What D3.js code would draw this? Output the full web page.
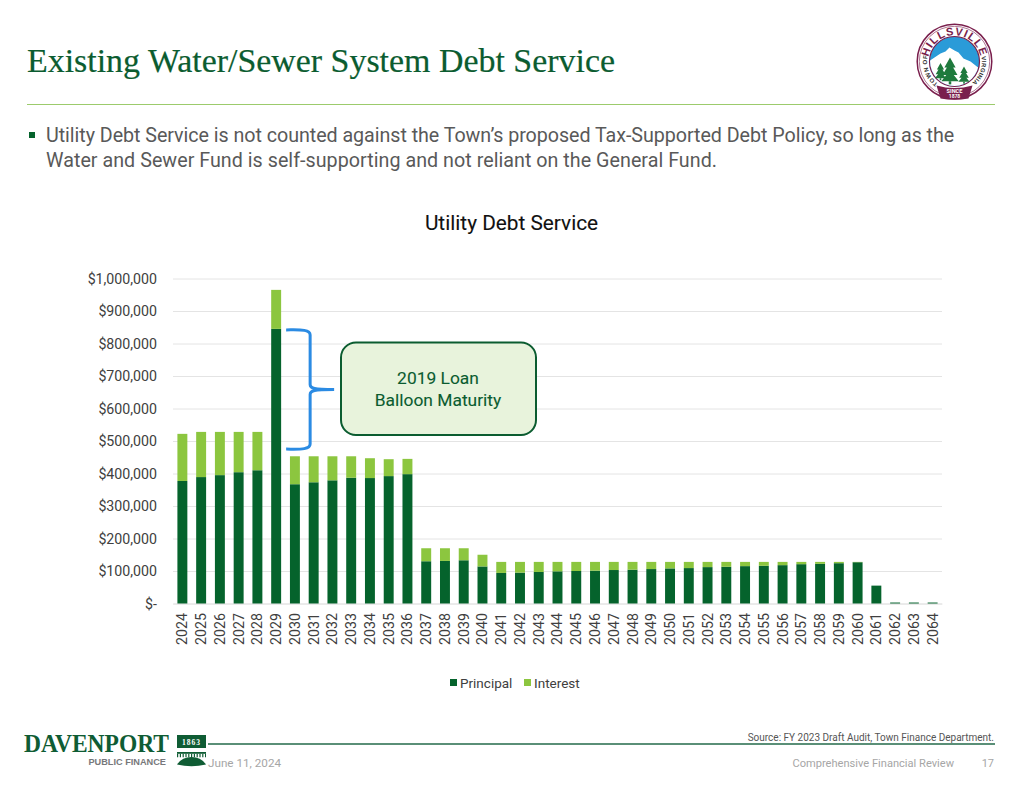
<!DOCTYPE html>
<html>
<head>
<meta charset="utf-8">
<script src="https://cdn.jsdelivr.net/npm/d3@7"></script>
<style>
  html, body { margin: 0; padding: 0; background: #fff; }
  svg { display: block; }
  text { font-family: Roboto, sans-serif; }
</style>
</head>
<body>
<div id="chart"></div>
<script>
const years = d3.range(2024, 2065).map(String)
const principal = [377000, 389000, 395000, 404000, 410000, 845000, 367000, 373000, 379000, 387000,
  386000, 392000, 398000, 130000, 131000, 133000, 114000, 94000, 95000, 97000,
  99000, 100000, 101000, 103000, 104000, 106000, 108000, 109000, 112000, 113000,
  115000, 116000, 118000, 121000, 122000, 124000, 127000, 55000, 3000, 3000, 3000]
const interest = [145000, 139000, 133000, 124000, 118000, 120000, 86000, 80000, 74000, 66000,
  61000, 52000, 47000, 40000, 39000, 37000, 36000, 34000, 33000, 31000,
  29000, 28000, 27000, 25000, 24000, 22000, 20000, 19000, 16000, 15000,
  13000, 12000, 10000, 7000, 6000, 4000, 1000, 0, 0, 0, 0]
const yTicks = d3.range(0, 1000001, 100000)
const seriesNames = ['Principal', 'Interest']
const seriesColors = ['#05632c', '#8cc63f']
const bulletLines = [
  'Utility Debt Service is not counted against the Town\u2019s proposed Tax-Supported Debt Policy, so long as the',
  'Water and Sewer Fund is self-supporting and not reliant on the General Fund.'
]
const calloutLines = ['2019 Loan', 'Balloon Maturity']
const braceRange = [845000, 472000]

const width = 1024
const height = 791
const darkGreen = '#0b5c30'

const svg = d3.select('#chart').append('svg')
  .attr('width', width)
  .attr('height', height)
  .attr('viewBox', `0 0 ${width} ${height}`)

// header
svg.append('text')
  .attr('x', 27).attr('y', 72)
  .attr('font-size', 33)
  .style('font-family', '"Liberation Serif", serif')
  .attr('fill', darkGreen)
  .attr('stroke', darkGreen)
  .attr('stroke-width', 0.2)
  .attr('textLength', 588)
  .attr('lengthAdjust', 'spacingAndGlyphs')
  .text('Existing Water/Sewer System Debt Service')

svg.append('line')
  .attr('x1', 27).attr('x2', 995)
  .attr('y1', 104.5).attr('y2', 104.5)
  .attr('stroke', '#9ccb6c').attr('stroke-width', 1.2)

svg.append('rect')
  .attr('x', 29).attr('y', 132).attr('width', 6).attr('height', 6)
  .attr('fill', seriesColors[0])

svg.selectAll('.bullet').data(bulletLines).enter()
  .append('text')
  .attr('class', 'bullet')
  .attr('x', 46)
  .attr('y', (d, i) => 142 + i * 25)
  .attr('font-size', 19.7)
  .attr('letter-spacing', (d, i) => i ? 0.03 : -0.05)
  .attr('fill', '#595959')
  .text(d => d)

svg.append('text')
  .attr('x', 511.5).attr('y', 230)
  .attr('text-anchor', 'middle')
  .attr('font-size', 20.8)
  .attr('fill', '#111')
  .attr('stroke', '#111')
  .attr('stroke-width', 0.1)
  .text('Utility Debt Service')

// chart
const x = d3.scaleBand().domain(years).range([173, 942]).paddingInner(0.47).paddingOuter(0.235)
const y = d3.scaleLinear().domain([0, 1000000]).range([603.5, 278.5])

const yAxis = d3.axisLeft(y)
  .tickValues(yTicks)
  .tickSize(-769)
  .tickPadding(16)
  .tickFormat(d => d === 0 ? '$-' : d3.format('$,')(d))

const yG = svg.append('g')
  .attr('transform', 'translate(173,0)')
  .call(yAxis)
yG.select('.domain').remove()
yG.selectAll('line').attr('stroke', '#e4e4e4')
yG.selectAll('text')
  .attr('font-size', 14.2)
  .attr('fill', '#404040')
  .style('font-family', 'Roboto, sans-serif')

// year axis goes in before the bars so the baseline stays behind them
const xAxis = d3.axisBottom(x).tickSize(0).tickPadding(0)
const xG = svg.append('g')
  .attr('transform', 'translate(0,603.5)')
  .call(xAxis)
xG.select('.domain').attr('stroke', '#e4e4e4')
xG.selectAll('text')
  .attr('transform', 'rotate(-90)')
  .attr('text-anchor', 'end')
  .attr('x', -9.5)
  .attr('y', 0)
  .attr('dy', '0.35em')
  .attr('font-size', 14.2)
  .attr('fill', '#404040')
  .style('font-family', 'Roboto, sans-serif')

const stackRows = years.map((yr, i) => ({year: yr, Principal: principal[i], Interest: interest[i]}))
const stacked = d3.stack().keys(seriesNames)(stackRows)

svg.selectAll('.series').data(stacked).enter()
  .append('g')
  .attr('class', 'series')
  .attr('fill', (d, i) => seriesColors[i])
  .selectAll('rect')
  .data(d => d)
  .enter()
  .append('rect')
  .attr('x', d => x(d.data.year))
  .attr('y', d => y(d[1]))
  .attr('width', x.bandwidth())
  .attr('height', d => y(d[0]) - y(d[1]))

// legend
const legend = svg.append('g').attr('transform', 'translate(0,683)')
const legendX = [450, 524]
seriesNames.forEach((name, i) => {
  legend.append('rect')
    .attr('x', legendX[i]).attr('y', -4)
    .attr('width', 7).attr('height', 7)
    .attr('fill', seriesColors[i])
  legend.append('text')
    .attr('x', legendX[i] + 10).attr('y', 5)
    .attr('font-size', 13.5)
    .attr('fill', '#404040')
    .text(name)
})

// brace + callout
const bx = x('2029') + x.bandwidth() + 5
const by0 = y(braceRange[0])
const by1 = y(braceRange[1])
const bm = (by0 + by1) / 2
svg.append('path')
  .attr('d', `M${bx},${by0 + 1} C${bx + 12},${by0 + 1} ${bx + 24},${by0} ${bx + 24},${by0 + 6}
    L${bx + 24},${bm - 5} C${bx + 24},${bm - 1} ${bx + 28},${bm} ${bx + 48},${bm}
    C${bx + 28},${bm} ${bx + 24},${bm + 1} ${bx + 24},${bm + 5}
    L${bx + 24},${by1 - 6} C${bx + 24},${by1} ${bx + 12},${by1 - 1} ${bx},${by1 - 1}`)
  .attr('fill', 'none')
  .attr('stroke', '#2b8be3')
  .attr('stroke-width', 3)

svg.append('rect')
  .attr('x', 341).attr('y', 342.5)
  .attr('width', 195).attr('height', 92.5)
  .attr('rx', 15)
  .attr('fill', '#e8f3dc')
  .attr('stroke', darkGreen)
  .attr('stroke-width', 2)

svg.selectAll('.callout').data(calloutLines).enter()
  .append('text')
  .attr('class', 'callout')
  .attr('x', 438)
  .attr('y', (d, i) => 384 + i * 21.5)
  .attr('text-anchor', 'middle')
  .attr('font-size', 17.4)
  .attr('fill', darkGreen)
  .attr('stroke', darkGreen)
  .attr('stroke-width', 0.1)
  .text(d => d)

// town seal
const seal = svg.append('g').attr('transform', 'translate(954.5,61.5)')
const maroon = '#7a1f4d'
seal.append('circle').attr('r', 37.3).attr('fill', '#fff').attr('stroke', maroon).attr('stroke-width', 1.5)
seal.append('circle').attr('r', 35.2).attr('fill', 'none').attr('stroke', maroon).attr('stroke-width', 0.6)
seal.append('circle').attr('r', 25).attr('fill', '#2a9bd8').attr('stroke', maroon).attr('stroke-width', 1.2)
const defs = svg.append('defs')
defs.append('clipPath').attr('id', 'sealClip').append('circle').attr('r', 24.4)
const scene = seal.append('g').attr('clip-path', 'url(#sealClip)')
scene.append('path').attr('d', 'M-26,0 L-14,-8 L-9,-10 L-5,-14 L0,-11 L4,-9 L9,-3 L16,0 L26,8 L26,28 L-26,28 Z').attr('fill', '#fff')
const trees = [[-4.5, -4, 1.25], [-14, 1.5, 0.8], [9.5, 5, 0.8]]
trees.forEach(t => {
  const g = seal.append('g').attr('transform', `translate(${t[0]},${t[1]}) scale(${t[2]})`)
  g.append('path').attr('d', 'M0,0 L-4.5,8 L-2.5,8 L-6,14 L-3,14 L-7,19 L7,19 L3,14 L6,14 L2.5,8 L4.5,8 Z').attr('fill', '#1f7a3d')
  g.append('rect').attr('x', -1).attr('y', 19).attr('width', 2).attr('height', 2.5).attr('fill', '#1f7a3d')
})
seal.append('path')
  .attr('d', 'M-18,24 Q0,29 18,24 L14,37 Q0,39.5 -14,37 Z')
  .attr('fill', maroon)
seal.append('text').attr('y', 31.5).attr('text-anchor', 'middle').attr('font-size', 5.6).attr('font-weight', 700).attr('fill', '#fff').text('SINCE')
seal.append('text').attr('y', 36.5).attr('text-anchor', 'middle').attr('font-size', 5).attr('font-weight', 700).attr('fill', '#fff').text('1878')

// clockwise arc for text that runs round the ring, angles from 12 o'clock
const ringArc = (r, a0, a1) => {
  const pt = a => {
    const t = a * Math.PI / 180
    return `${(r * Math.sin(t)).toFixed(2)},${(-r * Math.cos(t)).toFixed(2)}`
  }
  return `M${pt(a0)} A${r},${r} 0 0 1 ${pt(a1)}`
}
defs.append('path').attr('id', 'arcTop').attr('d', ringArc(26.3, -85, 85))
defs.append('path').attr('id', 'arcLeft').attr('d', ringArc(27.5, -155, -65))
defs.append('path').attr('id', 'arcRight').attr('d', ringArc(27.5, 65, 155))
const arcText = [['arcTop', 'HILLSVILLE', 11, maroon, 1], ['arcLeft', 'TOWN OF', 6, '#333', 0.5], ['arcRight', 'VIRGINIA', 6, '#333', 0.3]]
arcText.forEach(a => {
  seal.append('text')
    .attr('font-size', a[2])
    .attr('font-weight', 700)
    .attr('fill', a[3])
    .attr('letter-spacing', a[4])
    .style('font-family', '"Liberation Sans", sans-serif')
    .append('textPath')
    .attr('href', '#' + a[0])
    .attr('startOffset', '50%')
    .attr('text-anchor', 'middle')
    .text(a[1])
})

// footer
svg.append('text')
  .attr('x', 24).attr('y', 752)
  .attr('font-size', 25)
  .attr('font-weight', 700)
  .style('font-family', '"Liberation Serif", serif')
  .attr('fill', '#0f5c34')
  .attr('textLength', 145)
  .attr('lengthAdjust', 'spacingAndGlyphs')
  .text('DAVENPORT')
svg.append('text')
  .attr('x', 166).attr('y', 765)
  .attr('text-anchor', 'end')
  .attr('font-size', 9.2)
  .attr('font-weight', 700)
  .style('font-family', '"Liberation Sans", sans-serif')
  .attr('fill', '#77787b')
  .text('PUBLIC FINANCE')

svg.append('rect').attr('x', 177).attr('y', 735).attr('width', 29).attr('height', 13).attr('fill', '#0f5c34')
svg.append('text')
  .attr('x', 191.5).attr('y', 744.5)
  .attr('text-anchor', 'middle')
  .attr('font-size', 7.5)
  .attr('font-weight', 700)
  .attr('letter-spacing', 1)
  .style('font-family', '"Liberation Serif", serif')
  .attr('fill', '#fff')
  .text('1863')
svg.append('rect').attr('x', 177).attr('y', 752).attr('width', 29).attr('height', 1.8).attr('fill', '#0f5c34')
svg.append('line')
  .attr('x1', 177).attr('x2', 206)
  .attr('y1', 755.5).attr('y2', 755.5)
  .attr('stroke', '#0f5c34').attr('stroke-width', 3.5).attr('stroke-dasharray', '1.2 1.6')
svg.append('path')
  .attr('d', 'M177,764.5 Q182,757 191.5,757 Q201,757 206,764.5 Q191.5,768 177,764.5 Z')
  .attr('fill', '#0f5c34')

svg.append('line')
  .attr('x1', 208).attr('x2', 995)
  .attr('y1', 744).attr('y2', 744)
  .attr('stroke', '#5a8f77').attr('stroke-width', 2)

svg.append('text')
  .attr('x', 994).attr('y', 741)
  .attr('text-anchor', 'end')
  .attr('font-size', 10)
  .attr('fill', '#555')
  .text('Source: FY 2023 Draft Audit, Town Finance Department.')
svg.append('text')
  .attr('x', 208).attr('y', 767)
  .attr('font-size', 11.7)
  .attr('fill', '#a6a6a6')
  .text('June 11, 2024')
svg.append('text')
  .attr('x', 954).attr('y', 767)
  .attr('text-anchor', 'end')
  .attr('font-size', 11.1)
  .attr('fill', '#a6a6a6')
  .text('Comprehensive Financial Review')
svg.append('text')
  .attr('x', 994).attr('y', 767)
  .attr('text-anchor', 'end')
  .attr('font-size', 11)
  .attr('fill', '#a6a6a6')
  .text('17')
</script>
</body>
</html>
